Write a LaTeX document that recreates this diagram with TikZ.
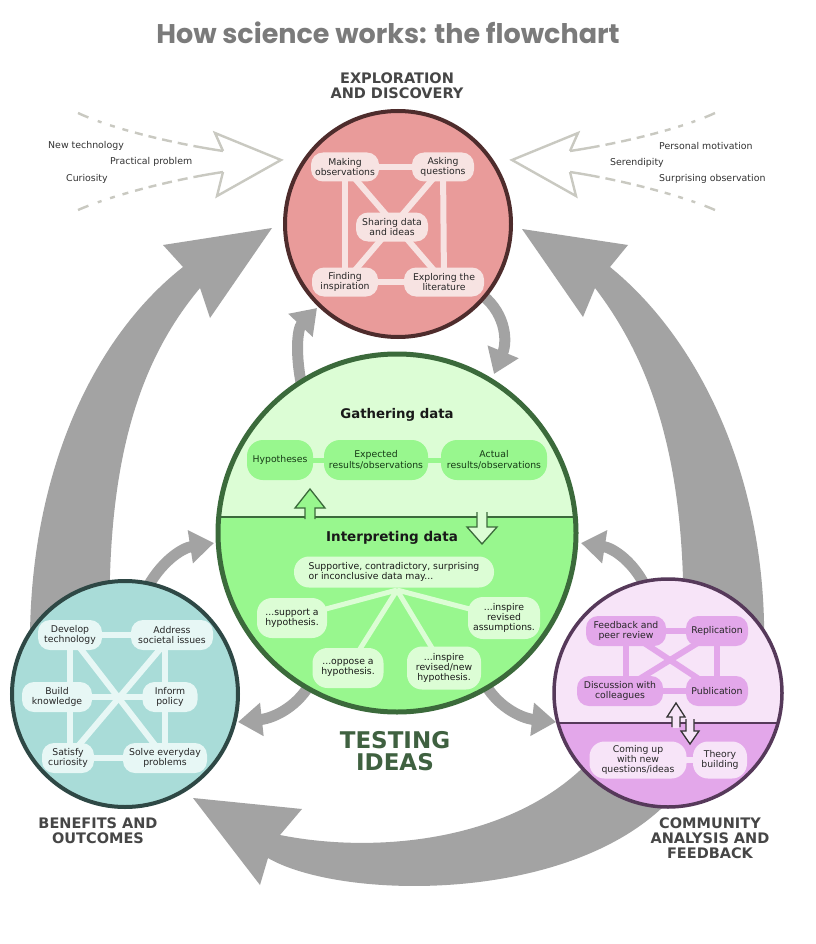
\documentclass[tikz,border=0pt]{standalone}
\usepackage{fontspec}
\setmainfont{DejaVu Sans}
\newfontfamily\titlefont{Poppins}
\usetikzlibrary{arrows.meta}
\definecolor{arrgray}{HTML}{A3A3A3}
\definecolor{openc}{HTML}{C9C9C1}
\definecolor{titlegray}{HTML}{7B7B7B}
\definecolor{headgray}{HTML}{464646}
\definecolor{expfill}{HTML}{E99B9A}
\definecolor{expborder}{HTML}{4E2C2C}
\definecolor{expnode}{HTML}{F7E3E2}
\definecolor{tupper}{HTML}{DCFDD5}
\definecolor{tlower}{HTML}{98F78E}
\definecolor{tborder}{HTML}{3B6A3B}
\definecolor{tgreen}{HTML}{3F6140}
\definecolor{tdarktext}{HTML}{163A16}
\definecolor{benfill}{HTML}{A9DCD8}
\definecolor{benborder}{HTML}{2E4845}
\definecolor{bennode}{HTML}{E7F7F5}
\definecolor{comupper}{HTML}{F7E4F8}
\definecolor{comlower}{HTML}{E3A7EA}
\definecolor{comborder}{HTML}{56395A}
\newcommand\nfont{\fontsize{9.3}{10.4}\selectfont}
\newcommand\sidefont{\fontsize{9.4}{10}\selectfont}
\newcommand\hfont{\bfseries\fontsize{14.5}{15}\selectfont}
\begin{document}
\begin{tikzpicture}[x=1pt,y=-1pt,
  smallarrow/.style={draw=arrgray, line width=11pt, -{Triangle[length=24pt,width=32pt]}},
  openarrow/.style={draw=openc, line width=2.4pt, line join=miter},
  fadedash/.style={draw=openc, line width=2.4pt, dash pattern=on 30pt off 6pt on 10pt off 6pt on 10pt off 6pt on 8pt off 6pt on 8pt off 7pt on 6pt off 8pt on 5pt off 9pt on 4pt off 10pt},
  sidelabel/.style={anchor=west, font=\sidefont, text=black!80, inner sep=0pt},
  heading/.style={align=center, font=\hfont, text=headgray, inner sep=0pt},
  pill/.style={rounded corners=12pt, inner sep=2pt, align=center, font=\nfont, minimum height=29pt},
  enode/.style={pill, fill=expnode, text=black!85},
  eline/.style={draw=expnode, line width=6pt},
  tnodeU/.style={pill, fill=tlower, text=tdarktext, minimum height=40pt, rounded corners=16pt},
  tnodeL/.style={pill, fill=tupper, text=black!90, minimum height=40pt, rounded corners=15pt},
  tlineU/.style={draw=tlower, line width=5pt},
  tlineL/.style={draw=tupper, line width=5pt},
  bnode/.style={pill, fill=bennode, text=black!85, minimum height=30pt},
  bline/.style={draw=bennode, line width=6pt},
  cnode/.style={pill, fill=comlower, text=black!85, minimum height=30pt},
  cnodeL/.style={pill, fill=comupper, text=black!85, minimum height=37pt, rounded corners=15pt},
  cline/.style={draw=comlower, line width=6pt},
  blockarrow/.style={line width=1.3pt, line join=miter},
  bigcircle/.style={circle, inner sep=0pt}
]
\useasboundingbox (0,0) rectangle (815,944);
\fill[white] (0,0) rectangle (815,944);

% title and headings
\node[text=titlegray, inner sep=0pt] (title) at (388,33) {\titlefont\bfseries\fontsize{27}{30}\selectfont How science works: the flowchart};
\node[heading] (hexp) at (397,86) {EXPLORATION\\AND DISCOVERY};
\node[heading] (hben) at (98,831) {BENEFITS AND\\OUTCOMES};
\node[heading] (hcom) at (710,838) {COMMUNITY\\ANALYSIS AND\\FEEDBACK};
\node[align=center, text=tgreen, inner sep=0pt, font=\bfseries\fontsize{23}{22}\selectfont] (htest) at (395,751) {TESTING\\IDEAS};

% open arrows with dashed tails
\draw[fadedash] (223,151) .. controls (170,143) and (110,128) .. (78,113);
\draw[fadedash] (223,172) .. controls (170,180) and (110,196) .. (78,210);
\draw[openarrow] (223,151) -- (215,133) -- (281,160) -- (217,196) -- (223,172);
\draw[fadedash] (570,151) .. controls (623,143) and (683,128) .. (715,113);
\draw[fadedash] (570,172) .. controls (623,180) and (683,196) .. (715,210);
\draw[openarrow] (570,151) -- (578,133) -- (512,160) -- (576,196) -- (570,172);
\node[sidelabel] (l1) at (48,146) {New technology};
\node[sidelabel] (l2) at (110,162) {Practical problem};
\node[sidelabel] (l3) at (66,179) {Curiosity};
\node[sidelabel] (r1) at (659,146) {Personal motivation};
\node[sidelabel] (r2) at (610,163) {Serendipity};
\node[sidelabel] (r3) at (659,179) {Surprising observation};

% big gray arrows
\fill[arrgray] (30,650) .. controls (28,480) and (90,340) .. (183,267) -- (163,245) -- (272,228) -- (210,318) -- (200,288) .. controls (140,360) and (105,460) .. (110,640) -- cycle;
\fill[arrgray] (764,650) .. controls (768,480) and (700,340) .. (610,267) -- (628,245) -- (522,229) -- (583,317) -- (595,288) .. controls (650,360) and (688,460) .. (683,640) -- cycle;
\fill[arrgray] (670,800) .. controls (570,905) and (340,900) .. (268,858) -- (260,885) -- (193,798) -- (302,809) -- (280,835) .. controls (380,855) and (520,840) .. (595,755) -- cycle;

% small gray arrows
\draw[smallarrow] (303,392) .. controls (294,352) and (298,328) .. (317,308);
\draw[smallarrow] (478,292) .. controls (505,310) and (508,340) .. (494,374);
\draw[smallarrow] (145,592) .. controls (160,562) and (182,548) .. (214,543);
\draw[smallarrow] (648,592) .. controls (635,562) and (613,548) .. (581,543);
\draw[smallarrow] (312,680) .. controls (300,705) and (275,718) .. (238,722);
\draw[smallarrow] (483,680) .. controls (495,705) and (520,718) .. (556,722);

% circles
\node[bigcircle, draw=expborder, line width=4pt, fill=expfill, minimum size=226pt] (explore) at (398,224) {};
\node[bigcircle, draw=benborder, line width=4pt, fill=benfill, minimum size=226pt] (benefit) at (125,694) {};
\node[bigcircle, draw=tborder, line width=5pt, fill=tupper, minimum size=358pt,
  path picture={\fill[tlower] (-200,-16) rectangle (200,200); \draw[tborder, line width=2.5pt] (-200,-16) -- (200,-16);}] (testing) at (397,533) {};
\node[bigcircle, draw=comborder, line width=3.5pt, fill=comupper, minimum size=228pt,
  path picture={\fill[comlower] (-200,30) rectangle (200,200); \draw[comborder, line width=2pt] (-200,30) -- (200,30);}] (community) at (668,693) {};

% exploration contents
\coordinate (moc) at (345,167);
\coordinate (aqc) at (443,167);
\coordinate (fic) at (345,282);
\coordinate (elc) at (444,282);
\draw[eline] (moc) -- (aqc);
\draw[eline] (fic) -- (elc);
\draw[eline] (moc) -- (fic);
\draw[eline] (aqc) -- (elc);
\draw[eline] (moc) -- (elc);
\draw[eline] (aqc) -- (fic);
\node[enode, minimum width=68pt] (mo) at (moc) {Making\\observations};
\node[enode, minimum width=62pt] (aq) at (aqc) {Asking\\questions};
\node[enode, minimum width=72pt] (sd) at (392,227) {Sharing data\\and ideas};
\node[enode, minimum width=66pt] (fi) at (fic) {Finding\\inspiration};
\node[enode, minimum width=80pt] (el) at (elc) {Exploring the\\literature};

% testing: gathering data
\node[font=\bfseries\fontsize{13.3}{15}\selectfont, text=black!90, inner sep=0pt] (gather) at (397,415) {Gathering data};
\coordinate (gl) at (280,460);
\coordinate (gr) at (494,460);
\draw[tlineU] (gl) -- (gr);
\node[tnodeU, minimum width=66pt] (hy) at (gl) {Hypotheses};
\node[tnodeU, minimum width=104pt] (ex) at (376,460) {Expected\\results/observations};
\node[tnodeU, minimum width=106pt] (ac) at (gr) {Actual\\results/observations};

% testing: interpreting data
\node[font=\bfseries\fontsize{13.5}{15}\selectfont, text=black!90, inner sep=0pt] (interp) at (392,538) {Interpreting data};
\coordinate (hub) at (397,590);
\coordinate (spc) at (292,618);
\coordinate (iac) at (504,618);
\coordinate (opc) at (348,668);
\coordinate (irc) at (444,668);
\draw[tlineL] (hub) -- (spc);
\draw[tlineL] (hub) -- (iac);
\draw[tlineL] (hub) -- (opc);
\draw[tlineL] (hub) -- (irc);
\node[tnodeL, minimum width=200pt, minimum height=31pt, align=left] (su) at (394,572) {Supportive, contradictory, surprising\\or inconclusive data may...};
\node[tnodeL, minimum width=70pt] (sp) at (spc) {...support a\\hypothesis.};
\node[tnodeL, minimum width=72pt, minimum height=42pt] (ia) at (iac) {...inspire\\revised\\assumptions.};
\node[tnodeL, minimum width=71pt] (op) at (opc) {...oppose a\\hypothesis.};
\node[tnodeL, minimum width=74pt, minimum height=43pt] (ir) at (irc) {...inspire\\revised/new\\hypothesis.};

% divider arrows in testing circle
\filldraw[blockarrow, fill=tlower, draw=tborder] (305,519) -- (305,508) -- (295,508) -- (310,489) -- (325,508) -- (315,508) -- (315,519);
\fill[tlower] (306,515) rectangle (314,521);
\filldraw[blockarrow, fill=tupper, draw=tborder] (477,512) -- (477,527) -- (467,527) -- (482,544) -- (497,527) -- (487,527) -- (487,512);
\fill[tupper] (478,511) rectangle (486,519);

% benefits contents
\coordinate (dtc) at (70,635);
\coordinate (asc) at (172,635);
\coordinate (bkc) at (57,697);
\coordinate (ipc) at (170,697);
\coordinate (scc) at (68,758);
\coordinate (sec) at (165,758);
\draw[bline] (dtc) -- (asc);
\draw[bline] (bkc) -- (ipc);
\draw[bline] (scc) -- (sec);
\draw[bline] (dtc) -- (sec);
\draw[bline] (asc) -- (scc);
\draw[bline] (dtc) -- (dtc |- scc);
\draw[bline] (asc -| sec) -- (sec);
\node[bnode, minimum width=64pt] (dt) at (dtc) {Develop\\technology};
\node[bnode, minimum width=82pt] (as) at (asc) {Address\\societal issues};
\node[bnode, minimum width=70pt] (bk) at (bkc) {Build\\knowledge};
\node[bnode, minimum width=55pt] (ip) at (ipc) {Inform\\policy};
\node[bnode, minimum width=52pt] (sc) at (scc) {Satisfy\\curiosity};
\node[bnode, minimum width=84pt] (se) at (sec) {Solve everyday\\problems};

% community contents
\coordinate (fbc) at (626,631);
\coordinate (rpc) at (717,631);
\coordinate (dcc) at (620,691);
\coordinate (pbc) at (717,691);
\draw[cline] (fbc) -- (rpc);
\draw[cline] (dcc) -- (pbc);
\draw[cline] (fbc) -- (pbc);
\draw[cline] (rpc) -- (dcc);
\draw[cline] (fbc) -- (fbc |- dcc);
\draw[cline] (rpc) -- (pbc);
\node[cnode, minimum width=80pt] (fb) at (fbc) {Feedback and\\peer review};
\node[cnode, minimum width=62pt] (rp) at (rpc) {Replication};
\node[cnode, minimum width=86pt] (dc) at (dcc) {Discussion with\\colleagues};
\node[cnode, minimum width=62pt] (pb) at (pbc) {Publication};
\coordinate (cuc) at (638,760);
\coordinate (tbc) at (720,760);
\draw[draw=comupper, line width=6pt] (cuc) -- (tbc);
\node[cnodeL, minimum width=97pt] (cu) at (cuc) {Coming up\\with new\\questions/ideas};
\node[cnodeL, minimum width=54pt] (tb) at (tbc) {Theory\\building};

% divider arrows in community circle
\filldraw[blockarrow, fill=comupper, draw=black!80] (672,727) -- (672,717) -- (667,717) -- (676,703) -- (685,717) -- (680,717) -- (680,727);
\fill[comupper] (673,721) rectangle (679,728);
\filldraw[blockarrow, fill=comupper, draw=black!80] (686,719) -- (686,731) -- (681,731) -- (690,744) -- (699,731) -- (694,731) -- (694,719);
\fill[comupper] (687,718) rectangle (693,726);
\end{tikzpicture}
\end{document}
